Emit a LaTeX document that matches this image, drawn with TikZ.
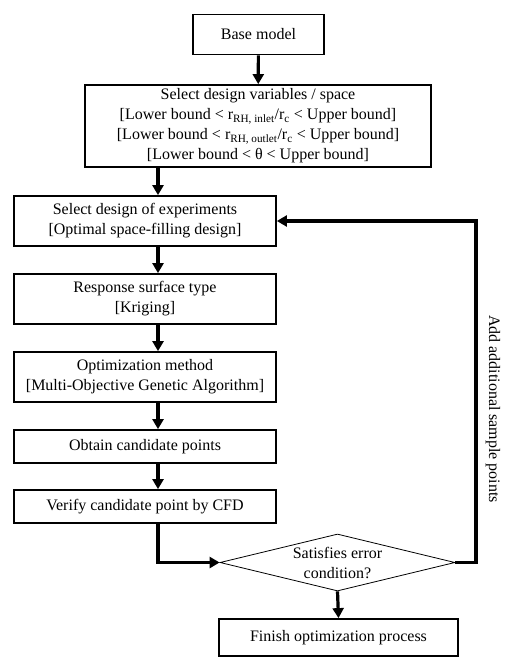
\documentclass[tikz,border=0pt]{standalone}
\usepackage{fontspec}
\setmainfont{Liberation Serif}
\usetikzlibrary{arrows.meta,shapes.geometric}
\begin{document}
\begin{tikzpicture}[x=1pt, y=-1pt,
    font=\fontsize{16}{20}\selectfont,
    >={Triangle[length=10pt,width=11pt]},
    block/.style={draw, line width=1.8pt, align=center, inner sep=2pt, minimum width=#1},
    block/.default=262pt,
    decision/.style={draw, diamond, line width=0.8pt, inner sep=0pt,
      minimum width=235pt, minimum height=57pt},
    flow/.style={->, line width=3.2pt}]
  \useasboundingbox (0,0) rectangle (516,668);
  \coordinate (spine) at (158,0);
  \coordinate (loop) at (476,0);

  \node [block=131pt, minimum height=40pt] (base) at (258.5,34.5) {Base model};
  \node [block=346pt, minimum height=82pt] (select) at (258,126)
    {Select design variables / space\\{}[Lower bound < r\textsubscript{RH, inlet}/r\textsubscript{c} < Upper bound]\\{}[Lower bound < r\textsubscript{RH, outlet}/r\textsubscript{c} < Upper bound]\\{}[Lower bound < θ < Upper bound]};

  \node [block, minimum height=50pt] (doe) at (145,221)
    {Select design of experiments\\{}[Optimal space-filling design]};
  \node [block, minimum height=50pt] (rst) at (145,299)
    {Response surface type\\{}[Kriging]};
  \node [block, minimum height=50pt] (opt) at (145,377)
    {Optimization method\\{}[Multi-Objective Genetic Algorithm]};
  \node [block, minimum height=33pt] (obtain) at (145,446.5) {Obtain candidate points};
  \node [block, minimum height=33pt] (verify) at (145,506.5) {Verify candidate point by CFD};

  \node [decision, label={[align=center]center:Satisfies error\\condition?}] (check)
    at (337.5,562.5) {};
  \node [block=239pt, minimum height=37pt] (finish) at (338.5,637.5)
    {Finish optimization process};

  \draw [flow] (base) -- (select);
  \foreach \f/\t in {select/doe, doe/rst, rst/opt, opt/obtain, obtain/verify}
    \draw [flow] (\f.south -| spine) -- (\t.north -| spine);
  \draw [flow] (verify.south -| spine) |- (check.west);
  \draw [flow] (check.south) -- (finish.north);
  \draw [flow] (check.east) -- (check.east -| loop) |- (doe.east);

  \node [rotate=-90] (add) at (493,409) {Add additional sample points};
\end{tikzpicture}
\end{document}
